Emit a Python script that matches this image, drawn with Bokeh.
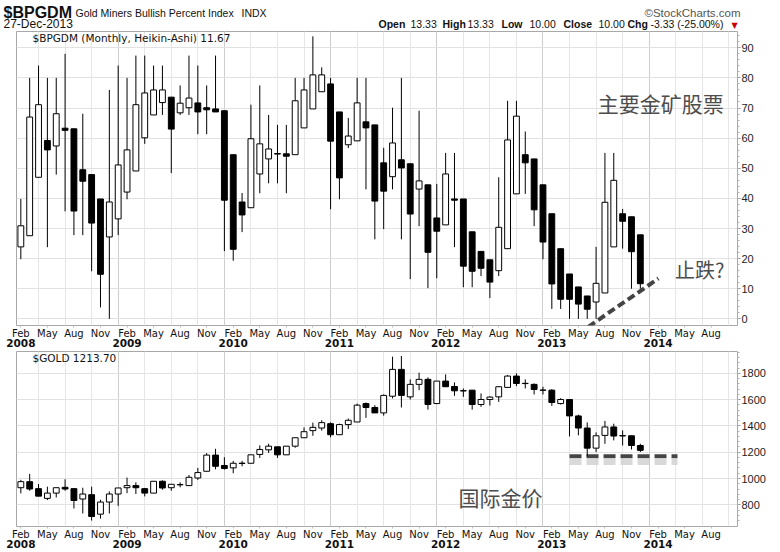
from bokeh.plotting import figure
from bokeh.models import Range1d, FixedTicker, LinearAxis, Label, Grid
from bokeh.layouts import column
from bokeh.embed import file_html
from bokeh.resources import INLINE

# ---------------- data (index 0 = Feb 2008 ... 70 = Dec 2013, monthly) ----------------
month_index = list(range(71))

bp_open = [23.9, 27.6, 47.0, 59.2, 57.4, 63.3, 63.1, 49.5, 47.9, 39.8, 27.2, 33.2,
           42.1, 49.1, 60.1, 67.7, 71.8, 73.6, 68.4, 70.1, 71.7, 70.1, 69.7, 69.1,
           54.5, 38.8, 36.9, 48.1, 53.1, 54.7, 54.8, 54.5, 63.4, 69.7, 75.4, 78.0,
           68.7, 57.8, 59.1, 65.4, 64.4, 51.8, 47.2, 52.8, 51.5, 43.1, 44.5, 33.5,
           31.2, 39.8, 39.8, 28.9, 22.4, 19.6, 16.0, 23.3, 41.5, 54.5, 53.1, 44.5,
           34.9, 23.3, 14.9, 10.6, 7.6, 5.6, 8.6, 23.9, 34.9, 33.9, 27.9]
bp_high = [39.8, 80.0, 84.1, 80.0, 80.0, 88.0, 63.1, 68.1, 47.9, 39.8, 76.0, 84.1,
           80.0, 87.4, 87.4, 84.1, 84.1, 73.6, 77.5, 87.4, 84.1, 77.5, 87.4, 69.1,
           54.5, 41.8, 71.1, 77.5, 67.7, 64.4, 64.4, 80.0, 80.0, 93.8, 83.5, 80.0,
           68.7, 66.7, 80.0, 80.0, 64.4, 56.8, 70.1, 80.0, 51.5, 69.1, 44.5, 44.8,
           55.1, 55.1, 39.8, 28.9, 22.4, 19.6, 47.0, 72.4, 72.4, 62.2, 53.1, 44.5,
           34.9, 23.3, 14.9, 10.6, 7.6, 23.9, 55.1, 55.1, 36.5, 33.9, 27.9]
bp_low = [19.8, 27.6, 47.0, 23.8, 47.9, 35.7, 27.8, 27.8, 15.8, 3.8, 0.0, 27.8,
          39.7, 49.1, 58.1, 67.7, 67.7, 48.4, 67.7, 67.7, 61.3, 61.3, 68.7, 22.5,
          19.3, 28.8, 36.9, 41.7, 45.0, 45.0, 41.7, 54.5, 63.4, 69.7, 75.4, 36.4,
          39.7, 56.7, 59.1, 43.0, 26.4, 29.8, 43.0, 26.4, 13.2, 30.8, 10.2, 13.5,
          31.2, 23.8, 10.5, 10.5, 14.2, 6.9, 14.2, 23.3, 41.5, 41.5, 30.8, 19.8,
          3.3, 3.3, 0.0, 0.0, 0.0, 0.0, 8.6, 23.9, 23.3, 10.0, 10.0]
bp_close = [30.9, 67.0, 71.1, 56.1, 68.1, 62.6, 35.8, 45.7, 31.8, 14.8, 38.8, 51.1,
            56.1, 71.1, 75.0, 76.0, 76.0, 63.0, 71.6, 73.3, 68.7, 69.4, 68.7, 39.4,
            23.1, 34.5, 59.8, 58.1, 56.4, 54.9, 54.0, 72.4, 76.0, 81.0, 81.0, 59.0,
            46.8, 60.7, 71.7, 63.4, 39.1, 42.4, 58.4, 50.1, 34.8, 45.8, 22.1, 29.1,
            48.1, 39.4, 17.5, 15.8, 16.8, 12.2, 30.4, 59.4, 67.3, 51.8, 36.2, 25.5,
            11.6, 6.5, 6.5, 4.9, 3.2, 11.8, 38.7, 46.0, 32.4, 22.3, 11.67]

gold_open = [930, 976, 923, 849, 889, 933, 923, 844, 877, 729, 821, 882,
             930, 946, 923, 889, 979, 930, 952, 946, 1004, 1055, 1178, 1099,
             1081, 1117, 1116, 1183, 1218, 1241, 1180, 1246, 1310, 1364, 1384, 1417,
             1333, 1410, 1430, 1570, 1540, 1499, 1626, 1830, 1621, 1716, 1754, 1570,
             1741, 1700, 1668, 1672, 1563, 1601, 1621, 1693, 1779, 1724, 1716, 1671,
             1672, 1570, 1601, 1476, 1384, 1231, 1328, 1392, 1326, 1325, 1251]
gold_high = [990, 1035, 958, 938, 930, 994, 923, 930, 938, 838, 902, 928,
             1007, 971, 928, 979, 986, 956, 971, 1027, 1081, 1193, 1226, 1162,
             1134, 1134, 1180, 1252, 1264, 1241, 1246, 1310, 1389, 1425, 1443, 1427,
             1417, 1456, 1570, 1578, 1558, 1639, 1927, 1932, 1754, 1805, 1769, 1741,
             1792, 1731, 1685, 1672, 1647, 1626, 1703, 1787, 1800, 1754, 1723, 1698,
             1680, 1611, 1601, 1486, 1427, 1351, 1438, 1417, 1366, 1325, 1264]
gold_low = [887, 907, 866, 836, 856, 907, 772, 734, 680, 696, 734, 792,
            889, 882, 864, 889, 915, 907, 933, 946, 989, 1055, 1070, 1068,
            1040, 1093, 1116, 1157, 1195, 1157, 1180, 1234, 1310, 1325, 1364, 1313,
            1333, 1376, 1430, 1461, 1499, 1478, 1609, 1540, 1601, 1672, 1524, 1570,
            1698, 1629, 1621, 1524, 1545, 1555, 1583, 1693, 1703, 1685, 1639, 1639,
            1552, 1563, 1320, 1328, 1167, 1201, 1264, 1290, 1251, 1221, 1201]
gold_close = [976, 920, 866, 889, 930, 920, 833, 882, 711, 821, 882, 928,
              946, 930, 889, 979, 928, 956, 954, 1009, 1045, 1178, 1093, 1076,
              1116, 1114, 1180, 1221, 1246, 1180, 1246, 1310, 1356, 1389, 1425, 1333,
              1410, 1443, 1558, 1540, 1499, 1632, 1830, 1632, 1716, 1754, 1563, 1741,
              1698, 1667, 1666, 1563, 1601, 1619, 1698, 1779, 1723, 1722, 1677, 1673,
              1578, 1601, 1476, 1384, 1231, 1325, 1392, 1323, 1324, 1251, 1214]

# axis ticks / labels (month positions)
month_tick_pos = list(range(0, 79, 3))
month_tick_text = (["Feb", "May", "Aug", "Nov"] * 7)[:27]
year_tick_pos = [0, 12, 24, 36, 48, 60, 72]
year_tick_text = ["2008", "2009", "2010", "2011", "2012", "2013", "2014"]
quarter_grid_pos = list(range(2, 81, 3))
year_grid_pos = [11, 23, 35, 47, 59, 71]
bp_y_ticks = [0, 10, 20, 30, 40, 50, 60, 70, 80, 90]
bp_y_minor = list(range(0, 96, 2))
gold_y_ticks = [800, 1000, 1200, 1400, 1600, 1800]
gold_y_minor = list(range(680, 1961, 40))

# annotation lines (drawn on the chart by hand in the original)
trend_x = [63.0, 72.05]
trend_y = [-4.9, 13.4]
support_x = [62.0, 74.2]
support_y = [1170, 1170]
support_shadow_y = [1126, 1126]

X_START, X_END = -0.49, 80.98
W = 780
LEFT, FRAME_W = 16, 721
HEADER_H = 31


def make_fig(height, b_top, b_bottom, y0, y1):
    p = figure(width=W, height=height, x_range=Range1d(X_START, X_END),
               y_range=Range1d(y0, y1), output_backend="svg", toolbar_location=None,
               title=None, x_axis_location=None, y_axis_location=None,
               min_border_left=LEFT, min_border_right=W - LEFT - FRAME_W,
               min_border_top=b_top, min_border_bottom=b_bottom)
    p.xgrid.visible = False
    p.ygrid.visible = False
    p.outline_line_color = "#a8a8a8"
    p.background_fill_color = "white"
    p.border_fill_color = "white"
    p.add_layout(Grid(dimension=0, ticker=FixedTicker(ticks=quarter_grid_pos),
                      grid_line_color="#e6e6e6"))
    p.add_layout(Grid(dimension=0, ticker=FixedTicker(ticks=year_grid_pos),
                      grid_line_color="#cdcdcd"))
    return p


def add_axes(p, yticks, yminor):
    p.add_layout(Grid(dimension=1, ticker=FixedTicker(ticks=yticks),
                      grid_line_color="#e2e2e2"))
    ya = LinearAxis(ticker=FixedTicker(ticks=yticks, minor_ticks=yminor))
    ya.axis_line_color = None
    ya.major_tick_line_color = "#888888"
    ya.major_tick_out = 3
    ya.major_tick_in = 0
    ya.minor_tick_line_color = "#b0b0b0"
    ya.minor_tick_out = 2
    ya.minor_tick_in = 0
    ya.major_label_standoff = 1
    ya.major_label_text_font = "Liberation Sans"
    ya.major_label_text_font_size = "11px"
    ya.major_label_text_color = "#222222"
    p.add_layout(ya, "right")

    ma = LinearAxis(ticker=FixedTicker(ticks=month_tick_pos),
                    major_label_overrides={t: s for t, s in zip(month_tick_pos, month_tick_text)})
    ma.axis_line_color = None
    ma.major_tick_line_color = "#bbbbbb"
    ma.major_tick_out = 2
    ma.major_tick_in = 0
    ma.minor_tick_line_color = None
    ma.major_label_standoff = 0
    ma.major_label_text_font = "DejaVu Sans"
    ma.major_label_text_font_size = "10px"
    ma.major_label_text_color = "#111111"
    p.add_layout(ma, "below")

    yr = LinearAxis(ticker=FixedTicker(ticks=year_tick_pos),
                    major_label_overrides={t: s for t, s in zip(year_tick_pos, year_tick_text)})
    yr.axis_line_color = None
    yr.major_tick_line_color = None
    yr.minor_tick_line_color = None
    yr.major_label_standoff = -9
    yr.major_label_text_font = "DejaVu Sans"
    yr.major_label_text_font_style = "bold"
    yr.major_label_text_font_size = "10.5px"
    yr.major_label_text_color = "#111111"
    p.add_layout(yr, "below")


def candles(p, o, h, l, c):
    top = [max(a, b) for a, b in zip(o, c)]
    bot = [min(a, b) for a, b in zip(o, c)]
    fill = ["black" if b < a else "white" for a, b in zip(o, c)]
    p.segment(x0=month_index, y0=l, x1=month_index, y1=h, line_color="black", line_width=1)
    p.vbar(x=month_index, width=0.66, top=top, bottom=bot, fill_color=fill,
           line_color="black", line_width=1)


def lab(p, x, y, text, size, font="Liberation Sans", style="normal",
        color="#111111", align="left", baseline="alphabetic", units="screen"):
    p.add_layout(Label(x=x, y=y, x_units=units, y_units=units, text=text,
                       text_font=font, text_font_size=size, text_font_style=style,
                       text_color=color, text_align=align, text_baseline=baseline))


# ---------------- header strip ----------------
ph = figure(width=W, height=HEADER_H, x_range=Range1d(0, W), y_range=Range1d(0, HEADER_H),
            output_backend="svg", toolbar_location=None, title=None,
            x_axis_location=None, y_axis_location=None,
            min_border_left=0, min_border_right=0, min_border_top=0, min_border_bottom=0)
ph.frame_align = False
ph.xgrid.visible = False
ph.ygrid.visible = False
ph.outline_line_color = None
ph.background_fill_color = "white"
ph.border_fill_color = "white"
# header positions in pixels (x from left, y from the strip's bottom)
L1 = HEADER_H - 12
L2 = HEADER_H - 23
lab(ph, 3, L1, "$BPGDM", "16px", style="bold", units="data")
lab(ph, 75, L1, "Gold Miners Bullish Percent Index", "10.5px", units="data")
lab(ph, 241, L1, "INDX", "10.5px", units="data")
lab(ph, 740, L1, "©StockCharts.com", "11.5px", color="#555555", align="right", units="data")
lab(ph, 3, L2, "27-Dec-2013", "12px", units="data")
hdr = [(378, "Open", "bold"), (410, "13.33", "normal"), (442, "High", "bold"),
       (467, "13.33", "normal"), (501, "Low", "bold"), (529, "10.00", "normal"),
       (563, "Close", "bold"), (598, "10.00", "normal"), (627, "Chg", "bold"),
       (650, "-3.33 (-25.00%)", "normal")]
for x, t, s in hdr:
    lab(ph, x, L2, t, "10.5px", style=s, units="data")
lab(ph, 731, L2 - 2, "▼", "8px", font="DejaVu Sans", color="#cc0000", units="data")

# ---------------- top panel ----------------
TOP_FRAME = 294
p1 = make_fig(TOP_FRAME + 26, 0, 26, -2.2, 95.4)
add_axes(p1, bp_y_ticks, bp_y_minor)
candles(p1, bp_open, bp_high, bp_low, bp_close)
p1.line(trend_x, trend_y, line_color="#444444", line_width=4, line_dash="8 4")

p1.add_layout(Label(x=72.3, y=71.5, text="主要金矿股票", text_font="Noto Sans CJK SC",
                    text_font_size="21px", text_color="#4d4d4d", text_align="center",
                    text_baseline="middle"))
p1.add_layout(Label(x=76.7, y=16.4, text="止跌?", text_font="Noto Sans CJK SC",
                    text_font_size="20px", text_color="#4d4d4d", text_align="center",
                    text_baseline="middle"))
lab(p1, 16, TOP_FRAME - 6, "$BPGDM (Monthly, Heikin-Ashi) 11.67", "10.5px",
    font="DejaVu Sans", color="#111111", baseline="middle")

# ---------------- bottom panel ----------------
BOT_FRAME = 175
p2 = make_fig(0 + BOT_FRAME + 26, 0, 26, 635, 1966)
add_axes(p2, gold_y_ticks, gold_y_minor)
p2.line(support_x, support_shadow_y, line_color="#cfcfcf", line_width=6,
        line_dash="12 5", line_alpha=0.8)
p2.line(support_x, support_y, line_color="#454545", line_width=4, line_dash="12 5")
candles(p2, gold_open, gold_high, gold_low, gold_close)
p2.add_layout(Label(x=54.2, y=861, text="国际金价", text_font="Noto Sans CJK SC",
                    text_font_size="21px", text_color="#4d4d4d", text_align="center",
                    text_baseline="middle"))
lab(p2, 16, BOT_FRAME - 6, "$GOLD 1213.70", "10.5px", font="DejaVu Sans",
    color="#111111", baseline="middle")

layout = column(ph, p1, p2, spacing=0)
open("out.html", "w").write(file_html(layout, INLINE))
